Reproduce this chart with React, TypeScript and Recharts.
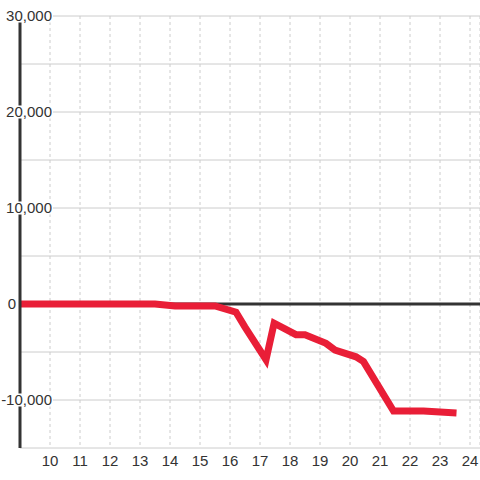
import React from "react";
import {
	LineChart,
	Line,
	XAxis,
	YAxis,
	CartesianGrid,
	ReferenceLine,
} from "recharts";

// x positions (hour-ish) and values
const xs = [9, 13.5, 14.17, 15.5, 16.2, 16.5, 17.2, 17.47, 18.2, 18.5, 19.2, 19.5, 20.2, 20.45, 21.45, 22.45, 23.55];
const values = [0, 0, -200, -200, -850, -2400, -5800, -2000, -3200, -3200, -4100, -4800, -5500, -6000, -11150, -11150, -11350];
const xTicks = [10, 11, 12, 13, 14, 15, 16, 17, 18, 19, 20, 21, 22, 23, 24];
const yTicks = [-15000, -10000, -5000, 0, 5000, 10000, 15000, 20000, 25000, 30000];

const data = xs.map((x, i) => ({ x, value: values[i] }));

const font = "Liberation Sans, Arial, sans-serif";

const YTick = (props: any) => {
	const { x, y, payload } = props;
	if (payload.value % 10000 !== 0) return <g />;
	const label = payload.value.toLocaleString("en-US");
	// zero sits left of the axis, the rest overlap it on a white patch
	if (payload.value === 0) {
		return (
			<text x={x - 4} y={y} dy="0.35em" textAnchor="end" fill="#333" fontSize={15} fontFamily={font}>
				{label}
			</text>
		);
	}
	const w = label.length * 8 + 2;
	return (
		<g>
			<rect x={x + 33 - w} y={y - 6.5} width={w} height={13} fill="#fff" />
			<text x={x + 32} y={y} dy="0.35em" textAnchor="end" fill="#333" fontSize={15} fontFamily={font}>
				{label}
			</text>
		</g>
	);
};

const App = () => {
	return (
		<div style={{ position: "absolute", left: 0, top: 0 }}>
			<LineChart
				width={480}
				height={480}
				data={data}
				margin={{ top: 16, right: 0, left: 0, bottom: 0 }}
			>
				<CartesianGrid vertical={false} stroke="#ccc" />
				<CartesianGrid horizontal={false} stroke="#ccc" strokeDasharray="3 3" />
				<XAxis
					dataKey="x"
					type="number"
					domain={[9, 24.333]}
					ticks={xTicks}
					axisLine={false}
					tickLine={false}
					tickSize={0}
					tickMargin={7}
					height={32}
					tick={{ fill: "#333", fontSize: 15, fontFamily: font }}
				/>
				<YAxis
					type="number"
					domain={[-15000, 30000]}
					ticks={yTicks}
					width={20}
					axisLine={{ stroke: "#333", strokeWidth: 3 }}
					tickLine={false}
					tickSize={0}
					tickMargin={0}
					tick={<YTick />}
				/>
				<ReferenceLine y={0} stroke="#333" strokeWidth={3} />
				<Line
					type="linear"
					dataKey="value"
					stroke="#e91e37"
					strokeWidth={7}
					dot={false}
					isAnimationActive={false}
				/>
			</LineChart>
		</div>
	);
};

export default App;
